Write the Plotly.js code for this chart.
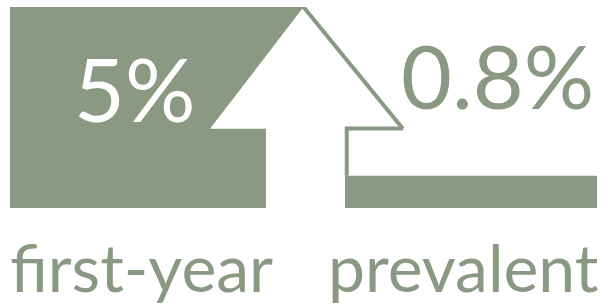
<!DOCTYPE html>
<html>
<head>
<meta charset="utf-8">
<script src="https://cdn.plot.ly/plotly-3.0.1.min.js"></script>
<style>html,body{margin:0;padding:0;background:#fff;}#chart{width:609px;height:308px;}</style>
</head>
<body>
<div id="chart"></div>
<script>
// Data
var categories = ['first-year', 'prevalent'];
var values = [5, 0.8];
var valueLabels = ['5%', '0.8%'];

// Styling / layout constants
var GREEN = '#8a9a82';
var FONT = 'Lato, "Open Sans", sans-serif';
var barCenters = [0.25, 0.7836];
var barWidths = [0.5, 0.4327];

// Arrow (decoration) geometry in axis units; tip reaches the first-year value
var tipX = 0.5, headY = 1.97;
var shaftL = 0.436, shaftR = 0.5707, headL = 0.3407, headR = 0.673;
var arrowFillX = [shaftL, shaftL, headL, tipX, headR, shaftR, shaftR];
var arrowFillY = [0, headY, headY, values[0], headY, headY, 0];
// outline on the white side, drawn slightly inside the shape
var outlineX = [tipX, headR - 0.004, shaftR + 0.003, shaftR + 0.003];
var outlineY = [values[0], headY + 0.01, headY + 0.01, values[1]];

var bars = {
  type: 'bar',
  x: barCenters,
  y: values,
  width: barWidths,
  marker: {color: GREEN, line: {width: 0}},
  hoverinfo: 'skip',
  showlegend: false
};

var arrowFill = {
  type: 'scatter',
  mode: 'lines',
  x: arrowFillX,
  y: arrowFillY,
  fill: 'toself',
  fillcolor: '#ffffff',
  line: {color: 'rgba(0,0,0,0)', width: 0},
  hoverinfo: 'skip',
  showlegend: false
};

var arrowOutline = {
  type: 'scatter',
  mode: 'lines',
  x: outlineX,
  y: outlineY,
  line: {color: GREEN, width: 4},
  hoverinfo: 'skip',
  showlegend: false
};

var annotations = [
  {x: 0.213, y: 2.985, xref: 'x', yref: 'y', text: valueLabels[0], showarrow: false,
   font: {family: FONT, size: 88, color: '#ffffff'}, xanchor: 'center', yanchor: 'middle'},
  {x: 0.831, y: 3.31, xref: 'x', yref: 'y', text: valueLabels[1], showarrow: false,
   font: {family: FONT, size: 88, color: GREEN}, xanchor: 'center', yanchor: 'middle'},
  {x: 0.2232, y: -0.29, xref: 'x', yref: 'paper', text: categories[0], showarrow: false,
   font: {family: FONT, size: 66, color: GREEN}, xanchor: 'center', yanchor: 'middle'},
  {x: 0.771, y: -0.29, xref: 'x', yref: 'paper', text: categories[1], showarrow: false,
   font: {family: FONT, size: 66, color: GREEN}, xanchor: 'center', yanchor: 'middle'}
];

var layout = {
  width: 609,
  height: 308,
  margin: {l: 10, r: 12, t: 7, b: 100, pad: 0},
  paper_bgcolor: '#ffffff',
  plot_bgcolor: '#ffffff',
  xaxis: {range: [0, 1], visible: false, fixedrange: true},
  yaxis: {range: [0, 5], visible: false, fixedrange: true},
  annotations: annotations,
  showlegend: false
};

Plotly.newPlot('chart', [bars, arrowFill, arrowOutline], layout, {displayModeBar: false, staticPlot: true});
</script>
</body>
</html>
